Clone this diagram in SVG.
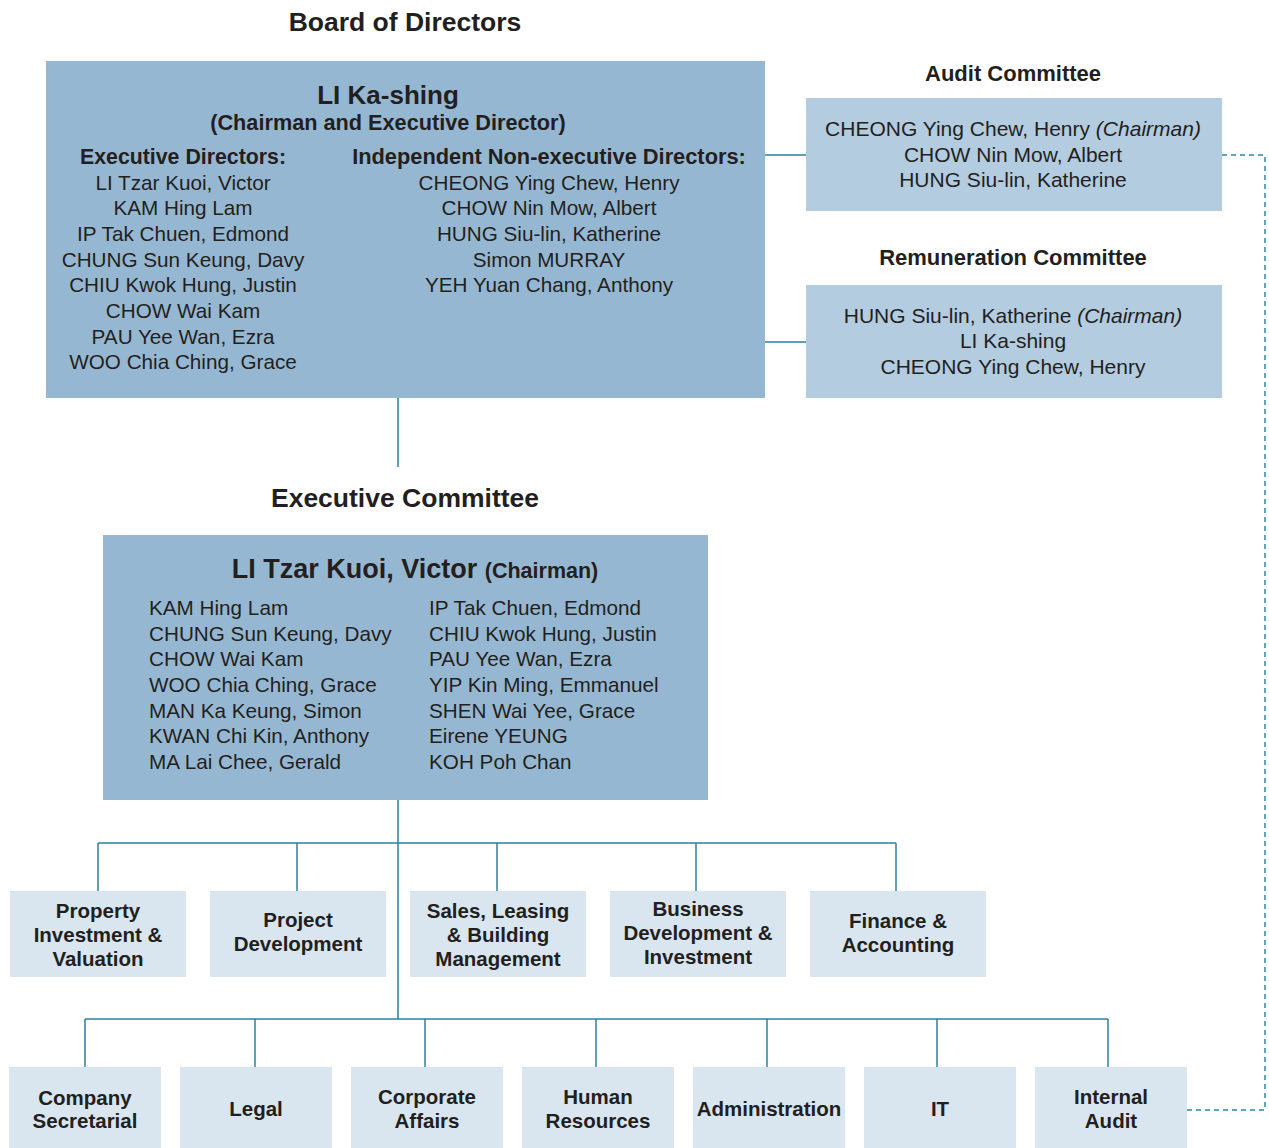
<svg xmlns="http://www.w3.org/2000/svg" width="1269" height="1148" viewBox="0 0 1269 1148">
<style>
text{font-family:"Liberation Sans",Arial,sans-serif;fill:#231f20;text-anchor:middle}
.h{font-weight:bold}
.title{font-size:26.5px;font-weight:bold}
.ctitle{font-size:22px;font-weight:bold}
.n{font-size:20.7px}
.c{font-size:21px}
.lb{font-size:20.5px;font-weight:bold}
.l{text-anchor:start}
.dark{fill:#96b7d1}
.mid{fill:#b3cce0}
.light{fill:#d9e5ef}
.con{stroke:#2e7fa0;stroke-width:1.5;fill:none}
.dash{stroke:#2e86ab;stroke-width:1.5;fill:none;stroke-dasharray:5 4}
</style>
<g id="connectors">
<path class="con" d="M765 155H806M765 342H806M398 398V467M398 800V1019M98 843H896M98 843V891M297 843V891M497 843V891M696 843V891M896 843V891"/>
<path class="con" d="M85 1019H1108" stroke-width="2"/>
<path class="con" d="M85 1019V1067M255 1019V1067M425 1019V1067M596 1019V1067M767 1019V1067M937 1019V1067M1108 1019V1067"/>
<path class="dash" d="M1222 155H1265V1110H1187"/>
</g>
<text class="title" x="405" y="31">Board of Directors</text>
<g id="board">
<rect class="dark" x="46" y="61" width="719" height="337"/>
<text class="h" x="388" y="104" font-size="26">LI Ka-shing</text>
<text class="h" x="388" y="130" font-size="21.7">(Chairman and Executive Director)</text>
<text class="h" x="183" y="164" font-size="21.3">Executive Directors:</text>
<text class="n" x="183" y="190">LI Tzar Kuoi, Victor</text>
<text class="n" x="183" y="215">KAM Hing Lam</text>
<text class="n" x="183" y="241">IP Tak Chuen, Edmond</text>
<text class="n" x="183" y="267">CHUNG Sun Keung, Davy</text>
<text class="n" x="183" y="292">CHIU Kwok Hung, Justin</text>
<text class="n" x="183" y="318">CHOW Wai Kam</text>
<text class="n" x="183" y="344">PAU Yee Wan, Ezra</text>
<text class="n" x="183" y="369">WOO Chia Ching, Grace</text>
<text class="h" x="549" y="164" font-size="21.8">Independent Non-executive Directors:</text>
<text class="n" x="549" y="190">CHEONG Ying Chew, Henry</text>
<text class="n" x="549" y="215">CHOW Nin Mow, Albert</text>
<text class="n" x="549" y="241">HUNG Siu-lin, Katherine</text>
<text class="n" x="549" y="267">Simon MURRAY</text>
<text class="n" x="549" y="292">YEH Yuan Chang, Anthony</text>
</g>
<text class="ctitle" x="1013" y="81">Audit Committee</text>
<g id="audit">
<rect class="mid" x="806" y="98" width="416" height="113"/>
<text class="c" x="1013" y="136">CHEONG Ying Chew, Henry <tspan font-style="italic">(Chairman)</tspan></text>
<text class="c" x="1013" y="162">CHOW Nin Mow, Albert</text>
<text class="c" x="1013" y="187">HUNG Siu-lin, Katherine</text>
</g>
<text class="ctitle" x="1013" y="265">Remuneration Committee</text>
<g id="remuneration">
<rect class="mid" x="806" y="285" width="416" height="113"/>
<text class="c" x="1013" y="323">HUNG Siu-lin, Katherine <tspan font-style="italic">(Chairman)</tspan></text>
<text class="c" x="1013" y="348">LI Ka-shing</text>
<text class="c" x="1013" y="374">CHEONG Ying Chew, Henry</text>
</g>
<text class="title" x="405" y="507">Executive Committee</text>
<g id="exec">
<rect class="dark" x="103" y="535" width="605" height="265"/>
<text class="h" x="415" y="578" font-size="27">LI Tzar Kuoi, Victor <tspan font-size="21.5">(Chairman)</tspan></text>
<text class="n l" x="149" y="615">KAM Hing Lam</text>
<text class="n l" x="149" y="641">CHUNG Sun Keung, Davy</text>
<text class="n l" x="149" y="666">CHOW Wai Kam</text>
<text class="n l" x="149" y="692">WOO Chia Ching, Grace</text>
<text class="n l" x="149" y="718">MAN Ka Keung, Simon</text>
<text class="n l" x="149" y="743">KWAN Chi Kin, Anthony</text>
<text class="n l" x="149" y="769">MA Lai Chee, Gerald</text>
<text class="n l" x="429" y="615">IP Tak Chuen, Edmond</text>
<text class="n l" x="429" y="641">CHIU Kwok Hung, Justin</text>
<text class="n l" x="429" y="666">PAU Yee Wan, Ezra</text>
<text class="n l" x="429" y="692">YIP Kin Ming, Emmanuel</text>
<text class="n l" x="429" y="718">SHEN Wai Yee, Grace</text>
<text class="n l" x="429" y="743">Eirene YEUNG</text>
<text class="n l" x="429" y="769">KOH Poh Chan</text>
</g>
<g id="property"><rect class="light" x="10" y="891" width="176" height="86"/>
<text class="lb" x="98" y="918">Property</text><text class="lb" x="98" y="942">Investment &amp;</text><text class="lb" x="98" y="966">Valuation</text></g>
<g id="project"><rect class="light" x="210" y="891" width="176" height="86"/>
<text class="lb" x="298" y="927">Project</text><text class="lb" x="298" y="951">Development</text></g>
<g id="sales"><rect class="light" x="410" y="891" width="176" height="86"/>
<text class="lb" x="498" y="918">Sales, Leasing</text><text class="lb" x="498" y="942">&amp; Building</text><text class="lb" x="498" y="966">Management</text></g>
<g id="business"><rect class="light" x="610" y="891" width="176" height="86"/>
<text class="lb" x="698" y="916">Business</text><text class="lb" x="698" y="940">Development &amp;</text><text class="lb" x="698" y="964">Investment</text></g>
<g id="finance"><rect class="light" x="810" y="891" width="176" height="86"/>
<text class="lb" x="898" y="928">Finance &amp;</text><text class="lb" x="898" y="952">Accounting</text></g>
<g id="company"><rect class="light" x="9" y="1067" width="152" height="81"/>
<text class="lb" x="85" y="1105">Company</text><text class="lb" x="85" y="1128">Secretarial</text></g>
<g id="legal"><rect class="light" x="180" y="1067" width="152" height="81"/>
<text class="lb" x="256" y="1116">Legal</text></g>
<g id="corporate"><rect class="light" x="351" y="1067" width="152" height="81"/>
<text class="lb" x="427" y="1104">Corporate</text><text class="lb" x="427" y="1128">Affairs</text></g>
<g id="hr"><rect class="light" x="522" y="1067" width="152" height="81"/>
<text class="lb" x="598" y="1104">Human</text><text class="lb" x="598" y="1128">Resources</text></g>
<g id="admin"><rect class="light" x="693" y="1067" width="152" height="81"/>
<text class="lb" x="769" y="1116">Administration</text></g>
<g id="it"><rect class="light" x="864" y="1067" width="152" height="81"/>
<text class="lb" x="940" y="1116">IT</text></g>
<g id="internal-audit"><rect class="light" x="1035" y="1067" width="152" height="81"/>
<text class="lb" x="1111" y="1104">Internal</text><text class="lb" x="1111" y="1128">Audit</text></g>
</svg>
